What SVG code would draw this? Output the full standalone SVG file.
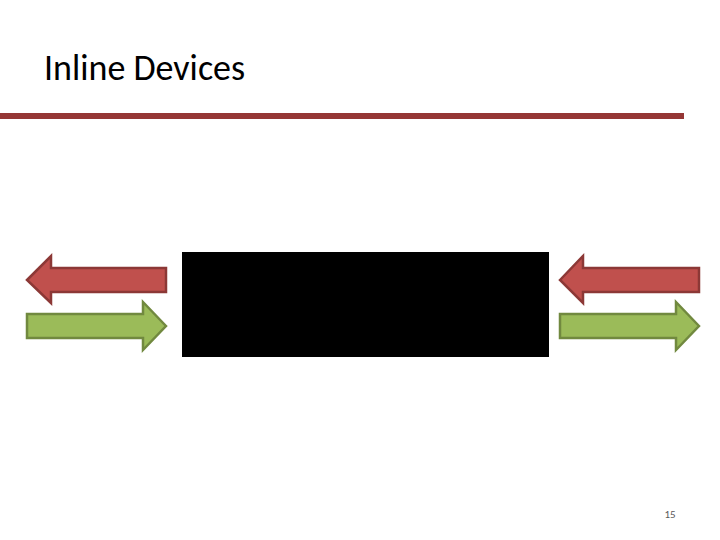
<svg xmlns="http://www.w3.org/2000/svg" width="720" height="540" viewBox="0 0 720 540">
<style>
.r{fill:#c0504d;stroke:#8c3836;stroke-width:2.5;stroke-linejoin:miter}
.g{fill:#9bbb59;stroke:#71893f;stroke-width:2.5;stroke-linejoin:miter}
text{font-family:Calibri,"Liberation Sans",Carlito,sans-serif}
</style>
<rect width="720" height="540" fill="#fff"/>
<text x="44" y="80" font-size="36" fill="#000">Inline Devices</text>
<rect x="0" y="113" width="684" height="6" fill="#953735"/>
<g id="device"><rect x="182" y="252" width="367" height="105" fill="#000"/></g>
<g id="connectors">
<polygon class="r" points="27,280 51,256 51,268 166,268 166,292 51,292 51,303"/>
<polygon class="g" points="166,326 143,302 143,314 27,314 27,338 143,338 143,350"/>
<polygon class="r" points="560,280 583,256 583,268 699,268 699,292 583,292 583,303"/>
<polygon class="g" points="699,326 676,302 676,314 560,314 560,338 676,338 676,350"/>
</g>
<text x="670" y="518" font-size="11" fill="#595959" text-anchor="middle">15</text>
</svg>
